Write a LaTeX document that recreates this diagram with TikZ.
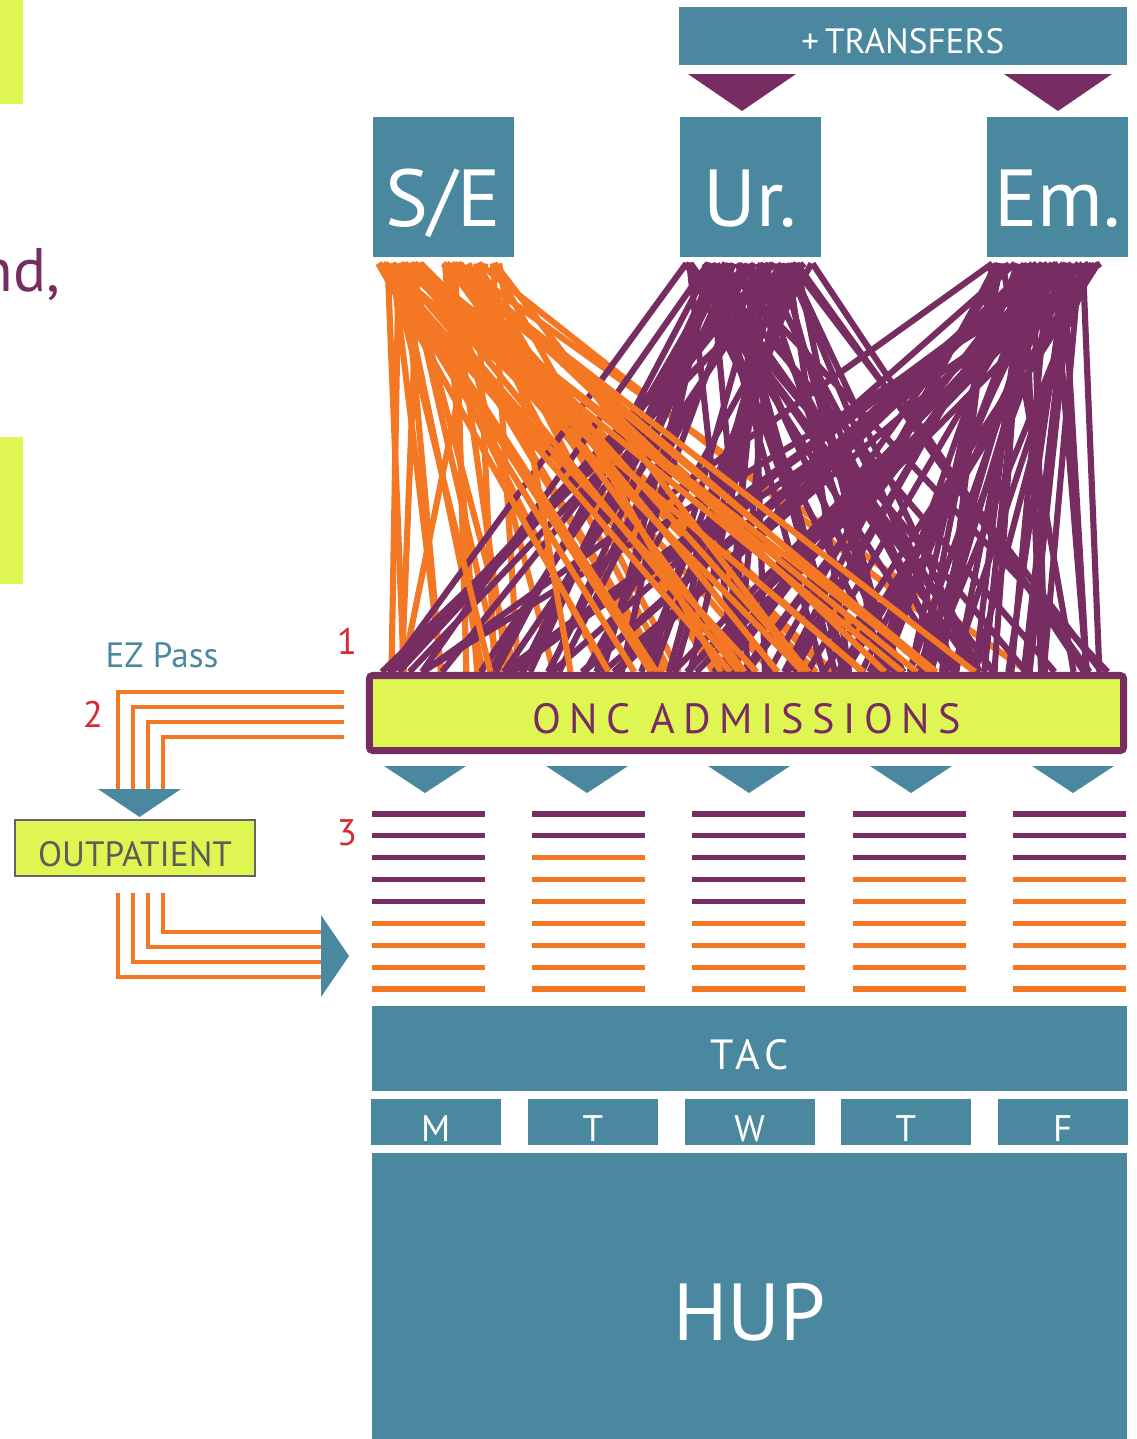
\documentclass[tikz,border=0pt]{standalone}
\usepackage{fontspec}
\setmainfont{PT Sans}
\usetikzlibrary{positioning,calc,backgrounds}
\definecolor{hupteal}{HTML}{4A88A0}
\definecolor{plum}{HTML}{772D62}
\definecolor{flame}{HTML}{F47723}
\definecolor{ezlime}{HTML}{DFF652}
\definecolor{numred}{HTML}{D42A33}
\definecolor{boxgray}{HTML}{666666}
\tikzset{
  teal style/.style={rectangle, fill=hupteal, text=white, inner sep=0pt, anchor=north west},
  src style/.style={teal style, minimum width=1.41cm, minimum height=1.40cm,
    text height=0.79cm, text depth=0pt, font=\fontsize{23}{23}\selectfont},
  day style/.style={teal style, minimum width=1.30cm, minimum height=0.46cm,
    text height=0.39cm, text depth=0pt, font=\fontsize{10.5}{10.5}\selectfont},
  num style/.style={text=numred, inner sep=0pt, font=\fontsize{10.5}{10.5}\selectfont},
  fan style/.style={line width=1.75pt},
  ez style/.style={draw=flame, line width=1.4pt},
  bar style/.style={line width=1.45pt}
}

\begin{document}
\begin{tikzpicture}[x=0.01cm, y=-0.01cm]
\useasboundingbox (0,0) rectangle (1136,1439);

% bits of the slide on the left
\fill[ezlime] (0,0) rectangle (23,104);
\fill[ezlime] (0,437) rectangle (23,584);
\node[anchor=base west, inner sep=0pt, text=plum, font=\fontsize{17.5}{17.5}\selectfont] (frag) at (-21,291) {nd,};

% sources
\node[teal style, minimum width=4.48cm, minimum height=0.58cm, text height=0.36cm, text depth=0pt,
  font=\fontsize{10}{10}\selectfont] (xfer) at (678,6) {+\,TRANSFERS};
\fill[plum] (688,74) -- (796,74) -- (742,111) -- cycle;
\fill[plum] (1004,74) -- (1112,74) -- (1058,111) -- cycle;
\node[src style] (se) at (372,116) {S/E};
\node[src style] (ur) at (679,116) {Ur.};
\node[src style] (em) at (986,116) {Em.};

% admissions
\node[rectangle, draw=plum, line width=2pt, rounded corners=1pt, fill=ezlime, text=plum,
  minimum width=7.54cm, minimum height=0.75cm, inner sep=0pt, text height=0.415cm, text depth=0pt,
  font=\fontsize{12}{12}\selectfont\addfontfeature{LetterSpace=20}] (onc) at (746.5,713) {ONC ADMISSIONS};

% the fan of patients
\begin{pgfonlayer}{background}
\pgfmathsetseed{11}
\foreach \k in {1,...,34}{
  \pgfmathsetmacro{\fa}{0.04+0.86*rnd}
  \pgfmathsetmacro{\fb}{0.005+0.92*pow(rnd,1.15)}
  \draw[fan style, flame] ($(se.south west)!\fa!(se.south east)+(0,6)$) -- ($(onc.north west)!\fb!(onc.north east)$);
}
\foreach \k in {1,...,60}{
  \pgfmathsetmacro{\fa}{0.04+0.92*rnd}
  \pgfmathsetmacro{\fb}{0.015+0.975*rnd}
  \draw[fan style, plum] ($(ur.south west)!\fa!(ur.south east)+(0,6)$) -- ($(onc.north west)!\fb!(onc.north east)$);
}
\foreach \k in {1,...,58}{
  \pgfmathsetmacro{\fa}{0.03+0.78*rnd}
  \pgfmathsetmacro{\fb}{0.03+0.96*pow(rnd,0.6)}
  \draw[fan style, plum] ($(em.south west)!\fa!(em.south east)+(0,6)$) -- ($(onc.north west)!\fb!(onc.north east)$);
}
\foreach \k in {1,...,24}{
  \pgfmathsetmacro{\fa}{0.04+0.86*rnd}
  \pgfmathsetmacro{\fb}{0.15+0.78*rnd}
  \draw[fan style, flame] ($(se.south west)!\fa!(se.south east)+(0,6)$) -- ($(onc.north west)!\fb!(onc.north east)$);
}
\end{pgfonlayer}

\node[num style] (n1) at (347,641) {1};

% EZ pass route
\node[text=hupteal, inner sep=0pt, font=\fontsize{10}{10}\selectfont] (ezpass) at (162,655) {EZ Pass};
\node[num style] (n2) at (93,714) {2};
\coordinate (outtri) at (139.5,789);
\foreach \i in {0,...,3}
  \draw[ez style] ($(onc.west)+(-21.5,-21+15*\i)$) -| ($(outtri)+(-21.5+15*\i,0)$);
\fill[hupteal] ($(outtri)+(-41.5,0)$) -- ($(outtri)+(41.5,0)$) -- ($(outtri)+(0,28)$) -- cycle;
\node[rectangle, draw=boxgray, line width=0.7pt, fill=ezlime, text=boxgray!90!black,
  minimum width=2.4cm, minimum height=0.56cm, inner sep=0pt, text height=0.36cm, text depth=0pt,
  font=\fontsize{10}{10}\selectfont] (outp) at (135,848) {OUTPATIENT};
\coordinate (inarr) at (321,956);
\foreach \i in {0,...,3}
  \draw[ez style] ($(outp.south)+(-17+15*\i,16)$) |- ($(inarr)+(0,21-15*\i)$);
\fill[hupteal] ($(inarr)+(0,-41)$) -- ($(inarr)+(28,0)$) -- ($(inarr)+(0,41)$) -- cycle;

% daily slots
\foreach \c in {425,587,749,911,1073}
  \fill[hupteal] (\c-41,766) -- (\c+41,766) -- (\c,793) -- cycle;
\node[num style] (n3) at (347,833) {3};
\foreach \c/\np in {428/5, 588/2, 748.5/5, 909/3, 1069.5/3}{
  \foreach \r in {1,...,9}{
    \pgfmathsetmacro{\yy}{814+21.875*(\r-1)}
    \ifnum\r>\np \def\barcol{flame}\else\def\barcol{plum}\fi
    \draw[bar style, \barcol] (\c-56.5,\yy) -- (\c+56.5,\yy);
  }
}

% clinic and hospital
\node[teal style, minimum width=7.55cm, minimum height=0.85cm, text height=0.425cm, text depth=0pt,
  font=\fontsize{12}{12}\selectfont\addfontfeature{LetterSpace=12}] (tac) at (371,1005) {TAC};
\foreach \d/\x [count=\i] in {M/370, T/527, W/684, T/840, F/997}
  \node[day style] (day\i) at (\x,1098) {\d};
\node[teal style, minimum width=7.55cm, minimum height=2.90cm, text height=0.86cm, text depth=0pt,
  font=\fontsize{23}{23}\selectfont] (hup) at (371,1152) {HUP};
\end{tikzpicture}
\end{document}
